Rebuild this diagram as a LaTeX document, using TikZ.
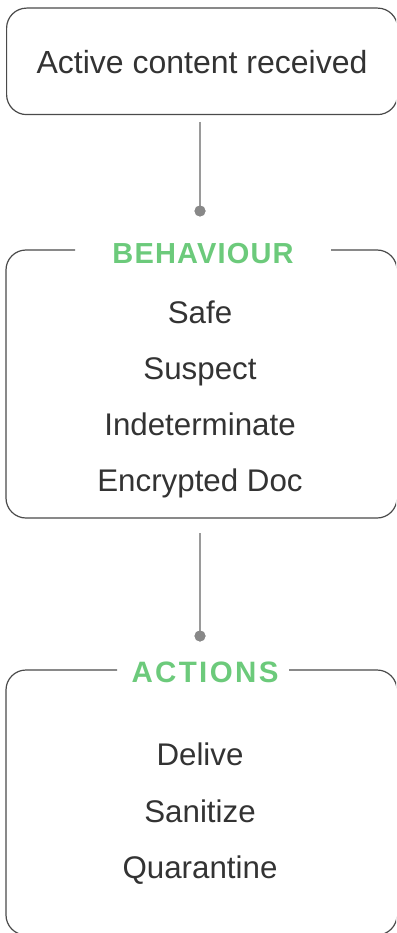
\documentclass[tikz,border=0pt]{standalone}
\usepackage{fontspec}
\setmainfont{Liberation Sans}
\newfontfamily\headfont[LetterSpace=4]{Liberation Sans}
\newfontfamily\headfontwide[LetterSpace=8]{Liberation Sans}
\definecolor{boxline}{HTML}{4A4A4A}
\definecolor{conn}{HTML}{9A9A9A}
\definecolor{dotc}{HTML}{888888}
\definecolor{headgreen}{HTML}{6CCA7B}
\definecolor{txt}{HTML}{333333}
\tikzset{
  frame/.style={draw=boxline, line width=1.2pt, rounded corners=20pt},
  item/.style={anchor=base, text=txt, font=\fontsize{31.3}{31.3}\selectfont, inner sep=0pt},
  head/.style={anchor=base, text=headgreen, font=\headfont\bfseries\fontsize{29}{29}\selectfont, inner sep=0pt},
  conline/.style={draw=conn, line width=1.3pt},
  dotmark/.style={circle, fill=dotc, minimum size=11pt, inner sep=0pt, draw=none}
}
\begin{document}
\begin{tikzpicture}[x=1pt,y=-1pt]
\useasboundingbox (0,0) rectangle (396,933);
\clip (0,0) rectangle (396,933);
% box 1
\node[frame, anchor=north west, minimum width=391pt, minimum height=106.5pt, inner sep=0pt] (box1) at (6,7.5) {};
\node[item, font=\fontsize{32}{32}\selectfont] (t1) at (202,74) {Active content received};
% box 2
\draw[frame] (75,250) -- (6,250) -- (6,518) -- (397,518) -- (397,250) -- (331,250);
\node[head] (h2) at (203,263) {BEHAVIOUR};
\node[item] (s1) at (200,323) {Safe};
\node[item] (s2) at (200,379) {Suspect};
\node[item] (s3) at (200,435) {Indeterminate};
\node[item] (s4) at (200,491) {Encrypted Doc};
% box 3
\draw[frame] (117,670) -- (6,670) -- (6,935) -- (397,935) -- (397,670) -- (289,670);
\node[head, font=\headfontwide\bfseries\fontsize{29.5}{29.5}\selectfont] (h3) at (205,682) {ACTIONS};
\node[item] (a1) at (200,765) {Delive};
\node[item] (a2) at (200,822) {Sanitize};
\node[item] (a3) at (200,878) {Quarantine};
% connectors
\coordinate (c1top) at (200,122);
\node[dotmark] (d1) at (200,211) {};
\draw[conline] (c1top) -- (d1.center);
\coordinate (c2top) at (200,533);
\node[dotmark] (d2) at (200,636) {};
\draw[conline] (c2top) -- (d2.center);
\node[dotmark] at (d1) {};
\node[dotmark] at (d2) {};
\end{tikzpicture}
\end{document}
